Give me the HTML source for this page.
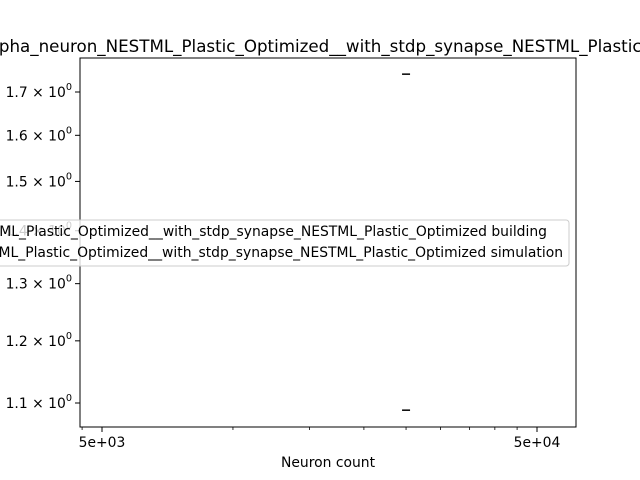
<!DOCTYPE html>
<html><head><meta charset="utf-8"><style>body{margin:0;background:#fff}svg{display:block;font-family:"DejaVu Sans","Liberation Sans",sans-serif}</style></head>
<body>
<svg id="c" width="640" height="480">
<text x="-16" y="52" font-size="16.7">alpha_neuron_NESTML_Plastic_Optimized__with_stdp_synapse_NESTML_Plastic_Optimized</text>
<g id="plot"></g>
<text x="328" y="467" font-size="13.9" text-anchor="middle">Neuron count</text>
</svg>
<script>
const xMajor=[5000,50000];
const xMajorLabels=["5e+03","5e+04"];
const xMinor=[4500,10000,15000,20000,25000,30000,35000,40000,45000];
const yTicks=[1.1,1.2,1.3,1.4,1.5,1.6,1.7];
const yTickLabels=["1.1","1.2","1.3","1.4","1.5","1.6","1.7"];
const seriesX=[25000,25000];
const seriesY=[1.743,1.089];
const seriesNames=["iaf_psc_alpha_neuron_NESTML_Plastic_Optimized__with_stdp_synapse_NESTML_Plastic_Optimized building","iaf_psc_alpha_neuron_NESTML_Plastic_Optimized__with_stdp_synapse_NESTML_Plastic_Optimized simulation"];
const L=80,R=576,T=58,B=427;
const xs=v=>102+435*Math.log10(v/5000);
const ys=v=>403-1645*Math.log10(v/1.1);
const NS="http://www.w3.org/2000/svg";
const g=document.getElementById('plot');
function mk(t,a,p){const e=document.createElementNS(NS,t);for(const k in a)e.setAttribute(k,a[k]);(p||g).appendChild(e);return e;}
const frame=mk('rect',{x:L,y:T,width:R-L,height:B-T,fill:'none',stroke:'#000','stroke-width':1});


xMajor.forEach((v,i)=>{const x=xs(v);
const t=mk('line',{x1:x,x2:x,y1:B,y2:B+5,stroke:'#000'});


const l=mk('text',{x:x,y:B+20,'font-size':13.9,'text-anchor':'middle'});l.textContent=xMajorLabels[i];

});
xMinor.forEach(v=>{const x=xs(v);
const t=mk('line',{x1:x,x2:x,y1:B,y2:B+3,stroke:'#000','stroke-width':0.8});

});
yTicks.forEach((v,i)=>{const y=ys(v);
const t=mk('line',{x1:L-5,x2:L,y1:y,y2:y,stroke:'#000'});


const l=mk('text',{x:L-8,y:y+5,'font-size':13.9,'text-anchor':'end'});
l.innerHTML=yTickLabels[i]+' × 10<tspan dy="-7" font-size="9.7">0</tspan>';

});
seriesX.forEach((v,i)=>{const x=xs(v),y=ys(seriesY[i]);
const m=mk('line',{x1:x-4,x2:x+4,y1:y,y2:y,stroke:'#000','stroke-width':1.5});

});
const lg=mk('rect',{x:-40,y:220,width:609,height:46,rx:3,fill:'#fff','fill-opacity':0.8,stroke:'#ccc'});


[[547,236],[563,257]].forEach((p,i)=>{const l=mk('text',{x:p[0],y:p[1],'font-size':13.9,'text-anchor':'end'});l.textContent=seriesNames[i];

});
</script>
</body></html>
